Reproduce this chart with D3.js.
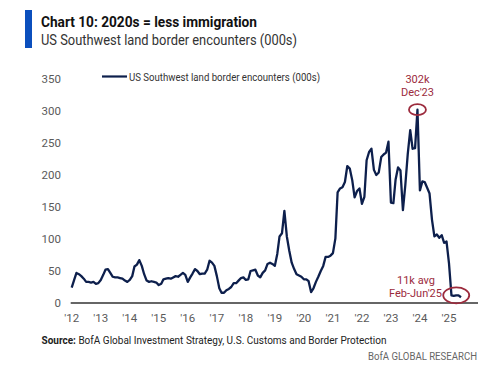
<!DOCTYPE html>
<html>
<head>
<meta charset="utf-8">
<script src="https://cdn.jsdelivr.net/npm/d3@7"></script>
<style>
  body { margin: 0; background: #fff; }
  svg { display: block; font-family: Roboto, "Open Sans", sans-serif; }
</style>
</head>
<body>
<div id="chart"></div>
<script>
// monthly encounters (000s), Jan 2012 .. Jun 2025
var startYear = 2012;
var encounters = [
  24, 36, 47, 45, 42, 38, 33, 33, 32, 33, 30, 31,        // 2012
  36, 44, 52, 53, 47, 41, 40, 40, 39, 38, 35, 33,        // 2013
  36, 42, 57, 60, 67, 58, 45, 35, 33, 34, 33, 32,        // 2014
  28, 30, 37, 38, 39, 38, 40, 42, 41, 44, 47, 44,        // 2015
  33, 40, 46, 53, 50, 45, 46, 46, 52, 66, 63, 58,        // 2016
  42, 23, 16, 16, 20, 22, 25, 31, 31, 35, 39, 40,        // 2017
  36, 37, 50, 51, 52, 43, 40, 47, 51, 61, 63, 61,        // 2018
  58, 77, 104, 109, 144, 104, 82, 63, 53, 45, 43, 41,    // 2019
  37, 37, 34, 17, 23, 33, 41, 50, 58, 72, 72, 74,        // 2020
  78, 101, 173, 179, 181, 189, 214, 210, 192, 165, 175, 179, // 2021
  155, 166, 223, 236, 241, 208, 200, 204, 228, 232, 235, 252, // 2022
  157, 156, 193, 212, 207, 145, 184, 233, 270, 241, 242, 302, // 2023
  176, 190, 189, 180, 171, 130, 104, 107, 102, 106, 94, 96,   // 2024
  62, 12, 11, 12, 12, 9                                  // 2025
];
var yTicks = [0, 50, 100, 150, 200, 250, 300, 350];
var xTickYears = d3.range(2012, 2026);
var xTickLabels = xTickYears.map(function(y) { return "'" + String(y).slice(2); });

var data = encounters.map(function(v, i) {
  return { date: new Date(startYear, i, 1), value: v };
});

var width = 500, height = 370;
var navy = "#0d1f4c", maroon = "#9c2b3d";

var svg = d3.select("#chart").append("svg")
  .attr("width", width)
  .attr("height", height);

var x = d3.scaleTime()
  .domain([new Date(2012, 0, 1), new Date(2026, 0, 1)])
  .range([71.7, 478]);
var y = d3.scaleLinear()
  .domain([0, 350])
  .range([303, 79]);

// title block
svg.append("rect").attr("x", 25).attr("y", 10).attr("width", 7).attr("height", 38).attr("fill", "#0b4fbd");
svg.append("text").attr("x", 41).attr("y", 27)
  .attr("font-size", 15.5).attr("font-weight", "bold").attr("fill", "#111")
  .attr("textLength", 216).attr("lengthAdjust", "spacingAndGlyphs")
  .text("Chart 10: 2020s = less immigration");
svg.append("text").attr("x", 41).attr("y", 45)
  .attr("font-size", 15).attr("fill", "#333")
  .attr("textLength", 256).attr("lengthAdjust", "spacingAndGlyphs")
  .text("US Southwest land border encounters (000s)");

// y labels
svg.selectAll(".ylab").data(yTicks).enter().append("text")
  .attr("class", "ylab")
  .attr("x", 61).attr("y", function(d) { return y(d); }).attr("dy", "0.35em")
  .attr("text-anchor", "end").attr("font-size", 11.5).attr("fill", "#5a5a5a")
  .text(function(d) { return d; });

// x labels
svg.selectAll(".xlab").data(xTickYears).enter().append("text")
  .attr("class", "xlab")
  .attr("x", function(d) { return x(new Date(d, 0, 1)); }).attr("y", 322)
  .attr("text-anchor", "middle").attr("font-size", 11.5).attr("fill", "#5a5a5a")
  .text(function(d, i) { return xTickLabels[i]; });

// baseline
svg.append("line")
  .attr("x1", x.range()[0] - 1).attr("x2", x.range()[1])
  .attr("y1", y(0)).attr("y2", y(0))
  .attr("stroke", "#333").attr("stroke-width", 1.5);

// legend
svg.append("line").attr("x1", 102).attr("x2", 127).attr("y1", 76.5).attr("y2", 76.5)
  .attr("stroke", navy).attr("stroke-width", 2.2);
svg.append("text").attr("x", 129).attr("y", 80.5)
  .attr("font-size", 10).attr("fill", "#333")
  .attr("textLength", 191).attr("lengthAdjust", "spacingAndGlyphs")
  .text("US Southwest land border encounters (000s)");

// series
var line = d3.line()
  .x(function(d) { return x(d.date); })
  .y(function(d) { return y(d.value); });
svg.append("path").datum(data)
  .attr("d", line)
  .attr("fill", "none").attr("stroke", navy)
  .attr("stroke-width", 2.3).attr("stroke-linejoin", "round");

// annotations
var peak = data.reduce(function(a, b) { return b.value > a.value ? b : a; });
svg.append("ellipse")
  .attr("cx", x(peak.date)).attr("cy", y(peak.value))
  .attr("rx", 8.5).attr("ry", 5.5)
  .attr("fill", "none").attr("stroke", maroon).attr("stroke-width", 1.8);
svg.append("text").attr("x", x(peak.date)).attr("y", y(peak.value) - 27)
  .attr("text-anchor", "middle").attr("font-size", 11).attr("fill", maroon)
  .text(peak.value + "k");
svg.append("text").attr("x", x(peak.date)).attr("y", y(peak.value) - 14)
  .attr("text-anchor", "middle").attr("font-size", 11).attr("fill", maroon)
  .text("Dec'23");

var recent = data.slice(-5);
var avg = d3.mean(recent, function(d) { return d.value; });
var ex = (x(recent[0].date) + x(recent[recent.length - 1].date)) / 2;
svg.append("ellipse")
  .attr("cx", ex).attr("cy", y(avg) - 0.5)
  .attr("rx", 13).attr("ry", 8)
  .attr("fill", "none").attr("stroke", maroon).attr("stroke-width", 1.8);
svg.append("text").attr("x", 416).attr("y", 284)
  .attr("text-anchor", "middle").attr("font-size", 11).attr("fill", maroon)
  .text(Math.round(avg) + "k avg");
svg.append("text").attr("x", 415.5).attr("y", 297)
  .attr("text-anchor", "middle").attr("font-size", 11).attr("fill", maroon)
  .text("Feb-Jun'25");

// source + footer
var src = svg.append("text").attr("x", 41.5).attr("y", 344)
  .attr("font-size", 11).attr("fill", "#222")
  .attr("textLength", 345).attr("lengthAdjust", "spacingAndGlyphs");
src.append("tspan").attr("font-weight", "bold").text("Source:");
src.append("tspan").text(" BofA Global Investment Strategy, U.S. Customs and Border Protection");

svg.append("text").attr("x", 477).attr("y", 360)
  .attr("text-anchor", "end").attr("font-size", 10.5).attr("fill", "#666")
  .attr("textLength", 109).attr("lengthAdjust", "spacingAndGlyphs")
  .text("BofA GLOBAL RESEARCH");
</script>
</body>
</html>
